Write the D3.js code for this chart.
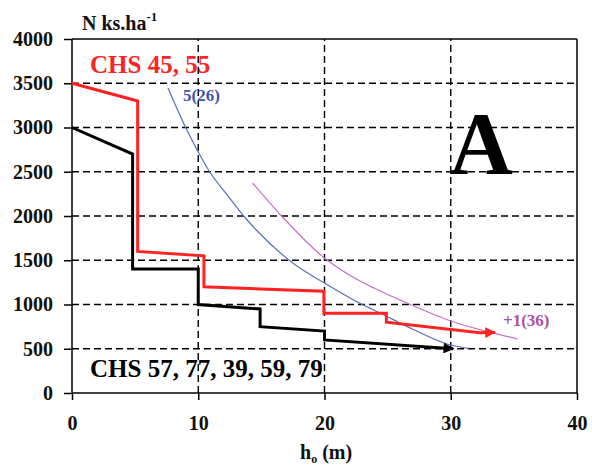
<!DOCTYPE html>
<html><head><meta charset="utf-8">
<script src="https://cdn.jsdelivr.net/npm/d3@7"></script>
<style>body{margin:0;background:#fff}svg{display:block}text{font-family:"Liberation Serif","Times New Roman",serif;font-weight:bold}</style>
</head><body><svg id="c" width="592" height="466"></svg>
<script>
// Data
const xTicks = [0, 10, 20, 30, 40];
const yTicks = [0, 500, 1000, 1500, 2000, 2500, 3000, 3500, 4000];
const gridX = [10, 20, 30];
const gridY = [500, 1000, 1500, 2000, 2500, 3000, 3500];
// CHS 57, 77, 39, 59, 79 (black step line)
const blackX = [0, 4.8, 4.8, 10, 10, 14.9, 14.9, 20, 20, 30.2];
const blackY = [3000, 2700, 1400, 1400, 1000, 950, 750, 700, 600, 500];
// CHS 45, 55 (red step line)
const redX = [0, 5.2, 5.2, 10.45, 10.45, 19.95, 19.95, 24.9, 24.9, 32.3, 33.5];
const redY = [3500, 3300, 1600, 1550, 1200, 1150, 900, 900, 800, 680, 685];
// 5(26) curve (blue)
const blueX = [7.6, 9.0, 10.0, 10.9, 12.3, 13.6, 14.6, 17.7, 20.0, 23.0, 24.4, 27.0, 30.0, 31.4];
const blueY = [3446, 3000, 2723, 2500, 2237, 2000, 1842, 1446, 1243, 1000, 904, 720, 542, 505];
// +1(36) curve (magenta)
const magX = [14.3, 16.6, 20.0, 22.0, 24.0, 26.8, 30.0, 33.0, 35.3];
const magY = [2373, 2000, 1525, 1330, 1180, 1000, 814, 690, 610];

const svg = d3.select("#c");
const x = d3.scaleLinear().domain([0, 40]).range([72, 577]);
const y = d3.scaleLinear().domain([0, 4000]).range([393, 39]);

// grid
const g = svg.append("g");
g.selectAll("line.gx").data(gridX).join("line")
  .attr("x1", d => x(d)).attr("x2", d => x(d)).attr("y1", y(0)).attr("y2", y(4000))
  .attr("stroke", "#000").attr("stroke-width", 1.4).attr("stroke-dasharray", "7,4");
g.selectAll("line.gy").data(gridY).join("line")
  .attr("y1", d => y(d)).attr("y2", d => y(d)).attr("x1", x(0)).attr("x2", x(40))
  .attr("stroke", "#000").attr("stroke-width", 1.4).attr("stroke-dasharray", "7,4");

// frame (top/right)
svg.append("line").attr("x1", x(0)).attr("x2", x(40)).attr("y1", y(4000)).attr("y2", y(4000)).attr("stroke", "#000").attr("stroke-width", 1.5);
svg.append("line").attr("x1", x(40)).attr("x2", x(40)).attr("y1", y(4000)).attr("y2", y(0)).attr("stroke", "#000").attr("stroke-width", 1.5);

// axes
const xAxis = svg.append("g").attr("transform", `translate(0,${y(0)})`)
  .call(d3.axisBottom(x).tickValues(xTicks).tickSize(7).tickPadding(16).tickFormat(d3.format("d")));
const yAxis = svg.append("g").attr("transform", `translate(${x(0)},0)`)
  .call(d3.axisLeft(y).tickValues(yTicks).tickSize(8).tickPadding(11).tickFormat(d3.format("d")));
[xAxis, yAxis].forEach(a => {
  a.select(".domain").attr("stroke", "#000").attr("stroke-width", 1.5);
  a.selectAll(".tick line").attr("stroke", "#000").attr("stroke-width", 1.5);
  a.selectAll(".tick text").attr("font-size", 20).attr("font-family", '"Liberation Serif","Times New Roman",serif').attr("font-weight", "bold").attr("fill", "#111");
});
xAxis.select(".domain").attr("d", `M${x(0)},0H${x(40)}`);
yAxis.select(".domain").attr("d", `M0,${y(0)}V${y(4000)}`);

const line = d3.line().x(d => x(d[0])).y(d => y(d[1]));
const smooth = d3.line().x(d => x(d[0])).y(d => y(d[1])).curve(d3.curveMonotoneX);

// curves
svg.append("path").datum(blueX.map((v, i) => [v, blueY[i]])).attr("d", smooth)
  .attr("fill", "none").attr("stroke", "#5a6fbd").attr("stroke-width", 1.2);
svg.append("path").datum(magX.map((v, i) => [v, magY[i]])).attr("d", smooth)
  .attr("fill", "none").attr("stroke", "#c66fc6").attr("stroke-width", 1.2);

// arrowheads
const defs = svg.append("defs");
[["ab", "#000"], ["ar", "#ff2222"]].forEach(([id, c]) => {
  defs.append("marker").attr("id", id).attr("viewBox", "0 0 10 10").attr("refX", 9).attr("refY", 5)
    .attr("markerWidth", 5).attr("markerHeight", 3.6).attr("markerUnits", "strokeWidth").attr("orient", "auto")
    .append("path").attr("d", "M0,0L10,5L0,10Z").attr("fill", c);
});

svg.append("path").datum(blackX.map((v, i) => [v, blackY[i]])).attr("d", line)
  .attr("fill", "none").attr("stroke", "#000").attr("stroke-width", 3).attr("stroke-linejoin", "miter")
  .attr("marker-end", "url(#ab)");
svg.append("path").datum(redX.map((v, i) => [v, redY[i]])).attr("d", line)
  .attr("fill", "none").attr("stroke", "#ff2222").attr("stroke-width", 3).attr("stroke-linejoin", "miter")
  .attr("marker-end", "url(#ar)");

// labels
const t = (s, xx, yy, size, fill, anchor) => svg.append("text").attr("x", xx).attr("y", yy)
  .attr("font-size", size).attr("fill", fill).attr("text-anchor", anchor || "start").text(s);
const yt = t("N ks.ha", 82, 30, 20, "#111");
yt.append("tspan").attr("font-size", 13).attr("dy", -9).text("-1");
const xt = t("h", 300, 459, 20, "#111");
xt.append("tspan").attr("font-size", 12).attr("dy", 4).text("o");
xt.append("tspan").attr("dy", -4).text(" (m)");
t("CHS 45, 55", 90, 73, 25, "#ff2222");
t("CHS 57, 77, 39, 59, 79", 90, 377, 25, "#000");
t("A", 481, 173, 88, "#000", "middle");
t("5(26)", 183, 101, 17, "#3f55a8");
t("+1(36)", 503, 326, 17, "#a850a8");
</script></body></html>
